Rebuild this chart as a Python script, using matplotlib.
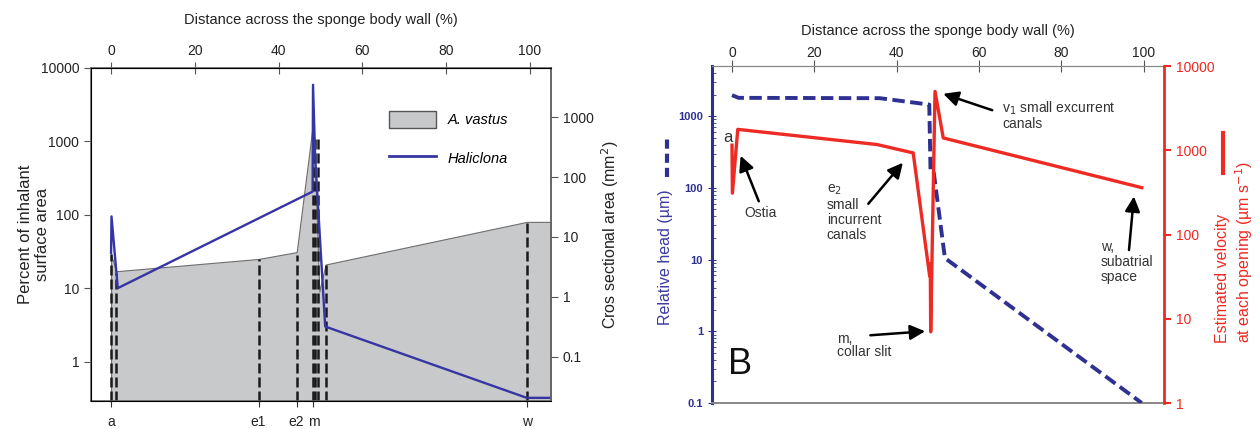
import matplotlib
matplotlib.use('Agg')
import matplotlib.pyplot as plt
from matplotlib.patches import Patch, FancyArrowPatch
from matplotlib.lines import Line2D
from matplotlib.ticker import FixedLocator, FixedFormatter, NullLocator, LogLocator, NullFormatter

plt.rcParams['font.family'] = ['Liberation Sans', 'DejaVu Sans']

# ---- panel A data ----
vastus_x = [0, 1.2, 35.2, 44.3, 48.3, 49.7, 51.2, 99.2, 105]
vastus_y = [29, 17, 25, 31, 1960, 9, 21, 80, 80]
hal_x = [0, 0.1, 1.6, 48.1, 48.2, 48.7, 51.1, 99.2, 105]
hal_y = [30, 95, 10, 207, 5900, 620, 3.0, 0.32, 0.32]
sect_x = [0, 1.2, 35.2, 44.3, 48.1, 48.7, 49.3, 51.2, 99.2]
sect_top = [29, 16, 25, 28, 1150, 1150, 1150, 21, 80]
zone_pos = [0, 35.2, 44.3, 48.3, 99.2]
zone_lab = ['a', 'e1', 'e2', 'm', 'w']

# ---- panel B data ----
head_x = [0, 1.6, 35.9, 47.9, 48.2, 48.9, 51.7, 99.5]
head_y = [1960, 1800, 1780, 1450, 180, 180, 10.5, 0.1]
vel_x = [0, 0.1, 1.4, 35.2, 44.0, 48.0, 48.15, 48.25, 49.3, 51.3, 99.5]
vel_y = [1150, 310, 1770, 1170, 930, 32, 45, 7, 5000, 1400, 360]

dist_ticks = [0, 20, 40, 60, 80, 100]

fig = plt.figure(figsize=(12.6, 4.29), dpi=100)

# ================= panel A =================
ax = fig.add_axes([0.0722, 0.0653, 0.3651, 0.7762])
ax.set_xlim(-4.8, 105)
ax.set_yscale('log')
ax.set_ylim(0.29, 10000)

ax.fill_between(vastus_x, 0.01, vastus_y, facecolor='#c8c9cb', edgecolor='#6e6e6e', lw=0.8, zorder=1)
ax.vlines(sect_x, 0.29, sect_top, colors='#1a1a1a', linestyles=(0, (4, 1.6)), lw=1.8, zorder=2)
ax.plot(hal_x, hal_y, color='#3535a3', lw=1.7, zorder=3)

ax.yaxis.set_major_locator(FixedLocator([1, 10, 100, 1000, 10000]))
ax.yaxis.set_major_formatter(FixedFormatter(['1', '10', '100', '1000', '10000']))
ax.yaxis.set_minor_locator(NullLocator())
ax.tick_params(axis='y', labelsize=10, colors='#222222', length=5, color='#555555')
ax.set_xticks(zone_pos)
ax.set_xticklabels(zone_lab, fontsize=10, color='#222222')
ax.tick_params(axis='x', length=4, color='#333333', pad=6)
ax.set_ylabel('Percent of inhalant\nsurface area', fontsize=12, color='#222222')
ax.yaxis.set_label_coords(-0.088, 0.5)
for s in ax.spines.values():
    s.set_color('#666666')
    s.set_linewidth(1.2)

topA = ax.secondary_xaxis('top')
topA.set_xticks(dist_ticks)
topA.tick_params(direction='inout', length=8, labelsize=10, colors='#222222', color='#555555')
topA.set_xlabel('Distance across the sponge body wall (%)', fontsize=10.5, color='#222222', labelpad=14)
topA.spines['top'].set_color('#666666')

axr = ax.twinx()
axr.set_yscale('log')
axr.set_ylim(0.0182, 6650)
axr.yaxis.set_major_locator(FixedLocator([0.1, 1, 10, 100, 1000]))
axr.yaxis.set_major_formatter(FixedFormatter(['0.1', '1', '10', '100', '1000']))
axr.yaxis.set_minor_locator(NullLocator())
axr.tick_params(axis='y', labelsize=10, colors='#222222', length=5, color='#555555')
axr.set_ylabel('Cros sectional area (mm$^2$)', fontsize=11.5, color='#222222', labelpad=4)
axr.spines['right'].set_color('#666666')
axr.spines['right'].set_linewidth(1.2)

ax.text(-1.2, 0.895, 'A', transform=ax.get_yaxis_transform(), fontsize=30, va='center', ha='left', color='#111111')
leg_handles = [Patch(facecolor='#c8c9cb', edgecolor='#555555', lw=1),
               Line2D([], [], color='#3535a3', lw=2)]
ax.legend(leg_handles, ['A. vastus', 'Haliclona'], loc='upper left', bbox_to_anchor=(0.62, 0.91),
          frameon=False, prop={'style': 'italic', 'size': 10.5}, handlelength=3.2, handleheight=1.4,
          labelspacing=1.5, handletextpad=0.8)

# ================= panel B =================
bx = fig.add_axes([0.5651, 0.0606, 0.3587, 0.7855])
bx.set_xlim(-4.85, 104.9)
bx.set_yscale('log')
bx.set_ylim(0.1, 5000)
blue = '#2e3192'
red = '#ee2a24'

bx.plot(head_x, head_y, color=blue, lw=2.8, linestyle=(0, (3.2, 1.4)), zorder=3)
bxr = bx.twinx()
bxr.set_yscale('log')
bxr.set_ylim(1, 10000)
bxr.plot(vel_x, vel_y, color=red, lw=2.4, zorder=4)

bx.set_xticks([])
bx.yaxis.set_major_locator(FixedLocator([0.1, 1, 10, 100, 1000]))
bx.yaxis.set_major_formatter(FixedFormatter(['0.1', '1', '10', '100', '1000']))
bx.yaxis.set_minor_locator(LogLocator(base=10, subs=range(2, 10)))
bx.yaxis.set_minor_formatter(NullFormatter())
bx.tick_params(axis='y', which='major', direction='inout', length=6, color=blue, labelcolor=blue,
               labelsize=8)
bx.tick_params(axis='y', which='minor', direction='in', length=3, color=blue)
for lab in bx.get_yticklabels():
    lab.set_fontweight('bold')
bx.spines['left'].set_color(blue)
bx.spines['left'].set_linewidth(2.2)
bx.spines['bottom'].set_color('#888888')
bx.spines['bottom'].set_linewidth(1.4)
bx.spines['top'].set_color('#888888')
bx.spines['right'].set_visible(False)

bxr.yaxis.set_major_locator(FixedLocator([1, 10, 100, 1000, 10000]))
bxr.yaxis.set_major_formatter(FixedFormatter(['1', '10', '100', '1000', '10000']))
bxr.yaxis.set_minor_locator(NullLocator())
bxr.tick_params(axis='y', length=5, width=1.5, color=red, labelcolor=red, labelsize=10)
bxr.spines['right'].set_color(red)
bxr.spines['right'].set_linewidth(2)
for s in ['left', 'top', 'bottom']:
    bxr.spines[s].set_visible(False)

topB = bx.secondary_xaxis('top')
topB.set_xticks(dist_ticks)
topB.tick_params(direction='inout', length=8, pad=0.5, labelsize=10, colors='#222222', color='#555555')
topB.set_xlabel('Distance across the sponge body wall (%)', fontsize=10.5, color='#222222', labelpad=8)
topB.spines['top'].set_color('#888888')

# axis titles with line-style keys
bx.text(-0.102, 0.433, 'Relative head (\u00b5m)', transform=bx.transAxes, rotation=90,
        ha='center', va='center', fontsize=11.5, color='#3a3aa0')
bx.plot([-0.10, -0.10], [0.671, 0.789], transform=bx.transAxes, clip_on=False,
        color=blue, lw=3, linestyle=(0, (2.2, 1.2)))
bx.text(1.157, 0.178, 'Estimated velocity\nat each opening (\u00b5m s$^{-1}$)', transform=bx.transAxes,
        rotation=90, ha='center', va='bottom', multialignment='left', fontsize=11.5, color=red)
bx.plot([1.131, 1.131], [0.682, 0.801], transform=bx.transAxes, clip_on=False, color=red, lw=3)

# annotations
txt = '#333333'
arrows = [((6.5, 65), (2.1, 280)),
          ((33.1, 60), (41.5, 224)),
          ((63.2, 1210), (51.3, 2050)),
          ((33.6, 0.88), (46.9, 1.0)),
          ((96.4, 13.6), (97.6, 76))]
for tail, head in arrows:
    bx.add_patch(FancyArrowPatch(tail, head, transform=bx.transData,
                                 arrowstyle='-|>,head_length=9,head_width=4.5',
                                 color='black', lw=1.8, shrinkA=0, shrinkB=0, zorder=5))

bx.text(-1.0, 500, 'a', fontsize=12, color=txt, ha='center', va='center')
bx.text(6.9, 45, 'Ostia', fontsize=10, color=txt, ha='center', va='center')
bx.text(23.0, 118, 'e$_2$\nsmall\nincurrent\ncanals', fontsize=10, color=txt, ha='left', va='top',
        linespacing=1.1)
bx.text(65.6, 1700, 'v$_1$ small excurrent\ncanals', fontsize=10, color=txt, ha='left', va='top',
        linespacing=1.0)
bx.text(25.4, 0.98, 'm,\ncollar slit', fontsize=10, color=txt, ha='left', va='top', linespacing=0.95)
bx.text(89.5, 19, 'w,\nsubatrial\nspace', fontsize=10, color=txt, ha='left', va='top', linespacing=1.1)
bx.text(-0.9, 0.34, 'B', fontsize=26, color='#111111', ha='left', va='center')

fig.savefig('out.png', dpi=100)
